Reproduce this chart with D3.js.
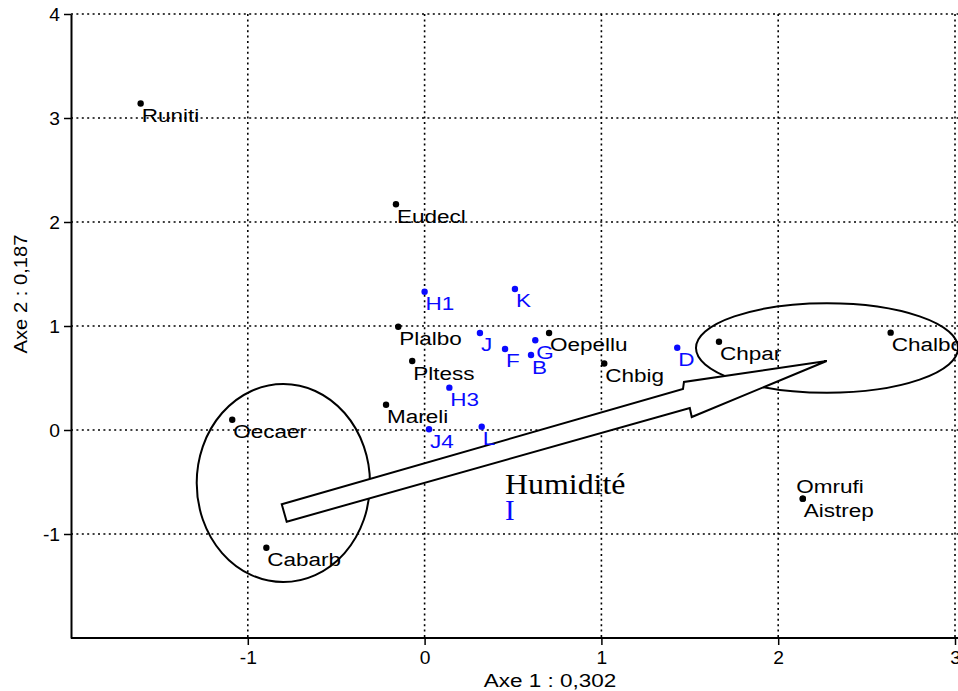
<!DOCTYPE html>
<html>
<head>
<meta charset="utf-8">
<script src="https://cdn.jsdelivr.net/npm/d3@7"></script>
<style>
  html, body { margin: 0; padding: 0; background: #fff; }
  svg { display: block; }
  text { font-family: "Liberation Sans", Arial, sans-serif; }
</style>
</head>
<body>
<svg id="chart" width="958" height="691"></svg>
<script>
// Species scores on the first two axes
const speciesNames = ["Runiti", "Eudecl", "Plalbo", "Pltess", "Mareli", "Oecaer", "Cabarb",
                      "Oepellu", "Chbig", "Chpar", "Chalbo", "Omrufi", "Aistrep"];
const speciesX = [-1.606, -0.162, -0.149, -0.070, -0.218, -1.088, -0.895,
                  0.704, 1.016, 1.665, 2.636, 2.139, 2.139];
const speciesY = [3.140, 2.170, 0.993, 0.663, 0.243, 0.099, -1.132,
                  0.933, 0.640, 0.849, 0.936, -0.660, -0.660];

// Site scores
const siteNames = ["H1", "K", "J", "F", "G", "B", "H3", "J4", "L", "D"];
const siteX = [0.000, 0.511, 0.313, 0.455, 0.626, 0.602, 0.140, 0.025, 0.323, 1.429];
const siteY = [1.330, 1.356, 0.933, 0.779, 0.863, 0.721, 0.407, 0.007, 0.032, 0.791];

// Axis ticks and titles
const xTicks = [-1, 0, 1, 2, 3];
const yTicks = [-1, 0, 1, 2, 3, 4];
const xTitle = "Axe 1 : 0,302";
const yTitle = "Axe 2 : 0,187";

// Humidity gradient: block arrow outline (axis units) and the two groupings
const arrowX = [-0.808, 1.4615, 1.467, 2.274, 1.511, 1.500, -0.780];
const arrowY = [-0.714, 0.394, 0.462, 0.663, 0.125, 0.2115, -0.882];
const ellipseCx = [-0.799, 2.276];
const ellipseCy = [-0.510, 0.788];
const ellipseRx = [0.490, 0.741];
const ellipseRy = [0.952, 0.430];
const gradientLabel = "Humidité";
const gradientLabelPos = [0.455, -0.615];
const groupLabel = "I";
const groupLabelPos = [0.455, -0.865];

const BLUE = "#0a0aff";
const WIDE = 1.25; // horizontal stretch of the label lettering

const svg = d3.select("#chart");
const x = d3.scaleLinear().domain([-2, 3]).range([71, 955]);
const y = d3.scaleLinear().domain([-2, 4]).range([638, 14]);

// Dotted grid
const grid = svg.append("g")
  .attr("stroke", "#000")
  .attr("stroke-width", 1.6)
  .attr("stroke-dasharray", "2,3.4");
grid.selectAll("line.v").data(xTicks).join("line")
  .attr("class", "v")
  .attr("x1", d => x(d)).attr("x2", d => x(d))
  .attr("y1", y(4)).attr("y2", y(-2));
grid.selectAll("line.h").data(yTicks).join("line")
  .attr("class", "h")
  .attr("x1", x(-2)).attr("x2", 958)
  .attr("y1", d => y(d)).attr("y2", d => y(d));

// Axes (plain hyphen for negatives)
const fmt = d => String(d);
const xAxis = svg.append("g")
  .attr("transform", `translate(0,${y(-2)})`)
  .call(d3.axisBottom(x).tickValues(xTicks).tickFormat(fmt)
    .tickSize(7).tickSizeOuter(0).tickPadding(7));
const yAxis = svg.append("g")
  .attr("transform", `translate(${x(-2)},0)`)
  .call(d3.axisLeft(y).tickValues(yTicks).tickFormat(fmt)
    .tickSize(7).tickSizeOuter(0).tickPadding(4));
[xAxis, yAxis].forEach(g => {
  g.select(".domain").attr("stroke", "#000").attr("stroke-width", 2);
  g.selectAll(".tick line").attr("stroke", "#000").attr("stroke-width", 1.5);
  g.selectAll(".tick text").attr("fill", "#000")
    .style("font-family", "'Liberation Sans', Arial, sans-serif")
    .style("font-size", "17.5px");
});
xAxis.select(".domain").attr("d", `M${x(-2)},0H958`);
xAxis.selectAll(".tick text").attr("transform", "scale(1.1,1)");
yAxis.selectAll(".tick text").attr("dy", "0.37em")
  .attr("x", -11 / 1.1).attr("transform", "scale(1.1,1)");

// Axis titles
svg.append("text")
  .attr("transform", `translate(550,687) scale(${WIDE},1)`)
  .attr("text-anchor", "middle")
  .style("font-size", "18px")
  .text(xTitle);
svg.append("text")
  .attr("transform", "translate(27,294) rotate(-90) scale(1.12,1)")
  .attr("text-anchor", "middle")
  .style("font-size", "18px")
  .text(yTitle);

// Ellipses and gradient arrow
svg.append("g").selectAll("ellipse").data(ellipseCx).join("ellipse")
  .attr("cx", d => x(d))
  .attr("cy", (d, i) => y(ellipseCy[i]))
  .attr("rx", (d, i) => x(ellipseRx[i]) - x(0))
  .attr("ry", (d, i) => y(0) - y(ellipseRy[i]))
  .attr("fill", "none").attr("stroke", "#000").attr("stroke-width", 2);

const arrowPts = arrowX.map((v, i) => [x(v), y(arrowY[i])]);
svg.append("path")
  .attr("d", d3.line()(arrowPts) + "Z")
  .attr("fill", "#fff").attr("stroke", "#000").attr("stroke-width", 2)
  .attr("stroke-linejoin", "miter");

// Gradient annotation
svg.append("text")
  .attr("transform", `translate(${x(gradientLabelPos[0])},${y(gradientLabelPos[1])}) scale(1.1,1)`)
  .style("font-family", "'Liberation Serif', 'Times New Roman', serif")
  .style("font-size", "29px")
  .attr("fill", "#000")
  .text(gradientLabel);
svg.append("text")
  .attr("x", x(groupLabelPos[0])).attr("y", y(groupLabelPos[1]))
  .style("font-family", "'Liberation Serif', 'Times New Roman', serif")
  .style("font-size", "29px")
  .attr("fill", BLUE)
  .text(groupLabel);

// Points and labels
function drawSet(names, xs, ys, color) {
  const g = svg.append("g");
  const data = names.map((n, i) => ({ name: n, x: xs[i], y: ys[i] }));
  g.selectAll("circle").data(data).join("circle")
    .attr("cx", d => x(d.x)).attr("cy", d => y(d.y))
    .attr("r", 3.2).attr("fill", color);
  g.selectAll("text").data(data).join("text")
    .attr("transform", d => {
      const dx = d.name === "Omrufi" ? -6.5 : 1;
      const dy = d.name === "Omrufi" ? -5.3 : 18.5;
      return `translate(${x(d.x) + dx},${y(d.y) + dy}) scale(${WIDE},1)`;
    })
    .attr("fill", color)
    .style("font-size", "18px")
    .text(d => d.name);
}
drawSet(speciesNames, speciesX, speciesY, "#000");
drawSet(siteNames, siteX, siteY, BLUE);
</script>
</body>
</html>
